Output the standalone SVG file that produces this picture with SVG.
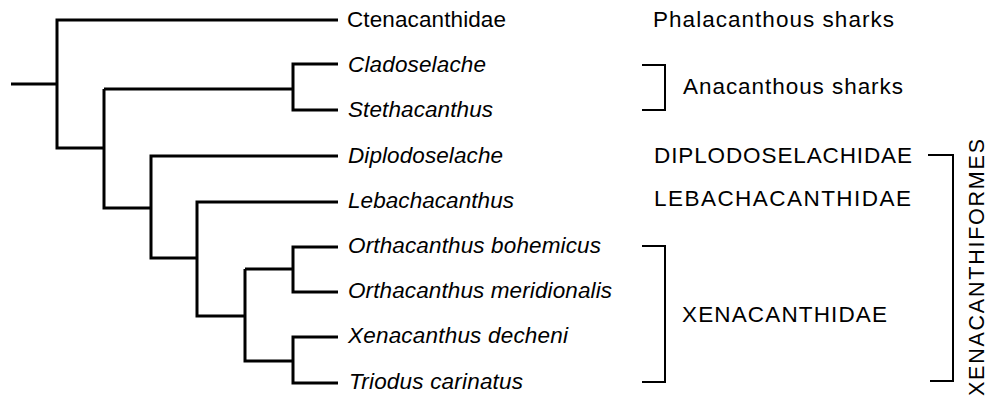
<svg xmlns="http://www.w3.org/2000/svg" width="989" height="398" viewBox="0 0 989 398">
<style>
  .tree { fill: none; stroke: #000; stroke-width: 3; stroke-linejoin: miter; stroke-linecap: butt; }
  .br { fill: none; stroke: #000; stroke-width: 2; }
  text { font-family: "Liberation Sans", Arial, Helvetica, sans-serif; font-size: 22.5px; fill: #000; }
  .it { font-style: italic; }
</style>
<rect width="989" height="398" fill="#fff"/>
<g id="connectors">
  <path class="tree" d="M11 84 H57"/>
  <path class="tree" d="M338 20 H57 V148 H104"/>
  <path class="tree" d="M104 89 H293"/>
  <path class="tree" d="M338 64 H293 V110 H338"/>
  <path class="tree" d="M104 89 V208 H151"/>
  <path class="tree" d="M338 156 H151 V258 H197"/>
  <path class="tree" d="M338 202 H197 V316 H245"/>
  <path class="tree" d="M245 269 H293"/>
  <path class="tree" d="M338 247 H293 V292 H338"/>
  <path class="tree" d="M245 269 V361 H293"/>
  <path class="tree" d="M338 337 H293 V383 H338"/>
</g>
<g id="leaf-ctenacanthidae"><text x="347" y="27" textLength="159" lengthAdjust="spacing">Ctenacanthidae</text></g>
<g id="leaf-cladoselache"><text class="it" x="348" y="72" textLength="138" lengthAdjust="spacing">Cladoselache</text></g>
<g id="leaf-stethacanthus"><text class="it" x="348" y="117" textLength="145" lengthAdjust="spacing">Stethacanthus</text></g>
<g id="leaf-diplodoselache"><text class="it" x="348" y="163" textLength="155" lengthAdjust="spacing">Diplodoselache</text></g>
<g id="leaf-lebachacanthus"><text class="it" x="348" y="208" textLength="166" lengthAdjust="spacing">Lebachacanthus</text></g>
<g id="leaf-orthacanthus-bohemicus"><text class="it" x="348" y="253" textLength="253" lengthAdjust="spacing">Orthacanthus bohemicus</text></g>
<g id="leaf-orthacanthus-meridionalis"><text class="it" x="348" y="298" textLength="264" lengthAdjust="spacing">Orthacanthus meridionalis</text></g>
<g id="leaf-xenacanthus-decheni"><text class="it" x="348" y="343" textLength="220" lengthAdjust="spacing">Xenacanthus decheni</text></g>
<g id="leaf-triodus-carinatus"><text class="it" x="349" y="389" textLength="174" lengthAdjust="spacing">Triodus carinatus</text></g>
<g id="group-phalacanthous"><text x="653" y="27" textLength="241" lengthAdjust="spacing">Phalacanthous sharks</text></g>
<g id="group-anacanthous">
  <path class="br" d="M642 65 H665 V110 H642"/>
  <text x="683" y="94" textLength="220" lengthAdjust="spacing">Anacanthous sharks</text>
</g>
<g id="group-diplodoselachidae"><text x="654" y="163" textLength="258" lengthAdjust="spacing">DIPLODOSELACHIDAE</text></g>
<g id="group-lebachacanthidae"><text x="654" y="206" textLength="257" lengthAdjust="spacing">LEBACHACANTHIDAE</text></g>
<g id="group-xenacanthidae">
  <path class="br" d="M642 246 H665 V382 H642"/>
  <text x="682" y="322" textLength="205" lengthAdjust="spacing">XENACANTHIDAE</text>
</g>
<g id="group-xenacanthiformes">
  <path class="br" d="M928 155 H953 V381 H930"/>
  <text transform="translate(984 396) rotate(-90)" x="0" y="0" style="font-size:21.5px" textLength="257" lengthAdjust="spacing">XENACANTHIFORMES</text>
</g>
</svg>
